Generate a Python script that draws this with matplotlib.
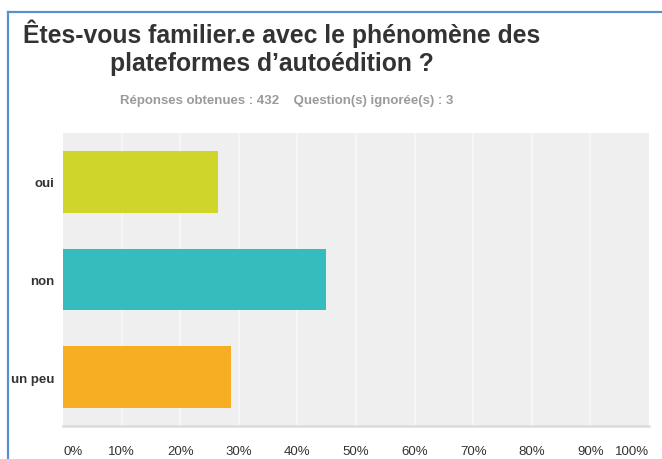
import matplotlib
matplotlib.use("Agg")
import matplotlib.pyplot as plt
from matplotlib.lines import Line2D

categories = ["oui", "non", "un peu"]
values = [26.39, 44.91, 28.70]
colors = ["#cfd52a", "#35bdbe", "#f7ae22"]
tick_values = [0, 10, 20, 30, 40, 50, 60, 70, 80, 90, 100]
tick_labels = [f"{v}%" for v in tick_values]
title_lines = ["Êtes-vous familier.e avec le phénomène des", "plateformes d’autoédition ?"]
subtitle = "Réponses obtenues : 432    Question(s) ignorée(s) : 3"

W, H = 662, 460
fig = plt.figure(figsize=(W / 100, H / 100), dpi=100)
fig.patch.set_facecolor("white")

# frame lines (blue border top and left)
fig.add_artist(Line2D([8 / W, 1], [1 - 13 / H, 1 - 13 / H], color="#5b8fd0", lw=1.6))
fig.add_artist(Line2D([8 / W, 8 / W], [0, 1 - 13 / H], color="#5b8fd0", lw=1.6))

# plot area
left, right, top, bottom = 63, 649, 134, 427
ax = fig.add_axes([left / W, 1 - bottom / H, (right - left) / W, (bottom - top) / H])
ax.set_facecolor("#efefef")
ax.set_xlim(0, 100)
ypos = list(range(len(categories)))
ax.set_ylim(len(categories) - 0.5, -0.5)
for v in tick_values[1:-1]:
    ax.axvline(v, color="#f6f6f6", lw=1.5, zorder=1)
ax.barh(ypos, values, height=0.63, color=colors, zorder=2)
for s in ax.spines.values():
    s.set_visible(False)
ax.axhline(len(categories) - 0.5, color="#dcdcdc", lw=1.8, zorder=3, clip_on=False)
ax.set_yticks(ypos)
ax.set_yticklabels(categories, fontsize=9.5, fontweight="bold", color="#333333",
                   family="Liberation Sans")
ax.tick_params(axis="y", length=0, pad=6)
ax.set_xticks(tick_values)
ax.set_xticklabels(tick_labels, fontsize=9.5, color="#333333", family="Liberation Sans")
ax.tick_params(axis="x", length=0, pad=14)
xl = ax.get_xticklabels()
xl[0].set_horizontalalignment("left")
xl[-1].set_horizontalalignment("right")

# titles
fig.text(282 / W, 1 - 34 / H, title_lines[0], ha="center", va="center", fontsize=17.8,
         fontweight="bold", color="#333333", family="Liberation Sans")
fig.text(272 / W, 1 - 64 / H, title_lines[1], ha="center", va="center", fontsize=17.8,
         fontweight="bold", color="#333333", family="Liberation Sans")
fig.text(287 / W, 1 - 101 / H, subtitle, ha="center", va="center", fontsize=9.5,
         fontweight="bold", color="#9a9a9a", family="Liberation Sans")

fig.savefig("out.png", dpi=100, facecolor="white")
